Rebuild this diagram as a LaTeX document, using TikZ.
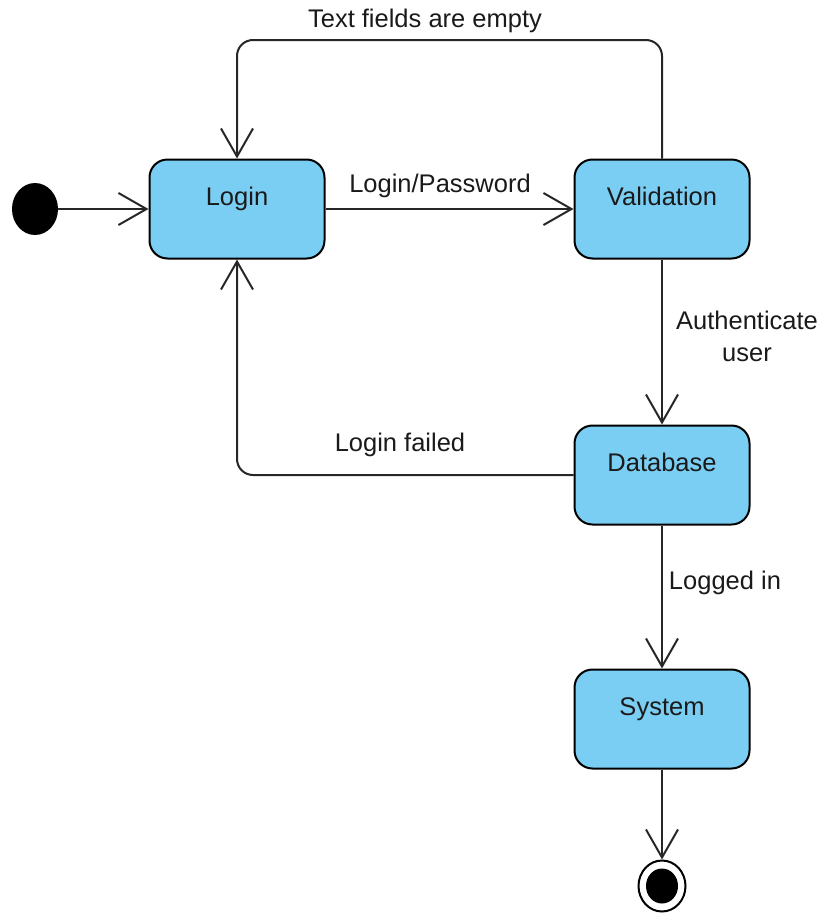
\documentclass[tikz,border=0pt]{standalone}
\usepackage{fontspec}
\setmainfont{Liberation Sans}
\usetikzlibrary{arrows.meta,positioning,shapes.geometric}
\definecolor{statefill}{HTML}{7BCEF3}
\definecolor{inktext}{HTML}{1A1A1A}
\tikzset{
  statebox/.style={draw=black, fill=statefill, rounded corners=18pt,
    minimum width=175pt, minimum height=99pt, line width=2pt,
    text height=19pt, text depth=27pt,
    font=\fontsize{25.5}{30}\selectfont, text=inktext},
  initdot/.style={ellipse, fill=black, minimum width=46pt, minimum height=52pt,
    inner sep=0pt},
  flow/.style={-{Straight Barb[length=28pt, width=32pt, line width=2pt]},
    line width=2pt, color=black!85},
  lbl/.style={font=\fontsize{25.5}{32}\selectfont, text=inktext, align=center},
}
\begin{document}
\begin{tikzpicture}[x=1pt, y=-1pt]
  \useasboundingbox (0,0) rectangle (824,916);
  % states
  \node[initdot] (start) at (35,209) {};
  \node[statebox] (login)  at (237,209) {Login};
  \node[statebox] (valid)  at (662,209) {Validation};
  \node[statebox] (dbase)  at (662,475) {Database};
  \node[statebox] (system) at (662,719) {System};
  \node[ellipse, draw=black, fill=white, line width=2pt, minimum width=47pt,
    minimum height=51pt, inner sep=0pt] (stop) at (662,886) {};
  \node[initdot, minimum width=32pt, minimum height=35pt] (stopin) at (stop) {};
  \coordinate (top) at (450,40);
  % transitions
  \draw[flow] (start) -- (login);
  \draw[flow] (login) -- (valid);
  \draw[flow, rounded corners=16pt] (valid.north) |- (top) -| (login.north);
  \draw[flow] (valid) -- (dbase);
  \draw[flow, rounded corners=16pt] (dbase.west) -| (login.south);
  \draw[flow] (dbase) -- (system);
  \draw[flow] (system) -- (stop);
  % labels
  \node[lbl] (ltext) at (425,21) {Text fields are empty};
  \node[lbl] (lpass) at (440,186) {Login/Password};
  \node[lbl] (lauth) at (747,336) {Authenticate\\user};
  \node[lbl] (lfail) at (400,445) {Login failed};
  \node[lbl] (llog)  at (725,583) {Logged in};
\end{tikzpicture}
\end{document}
